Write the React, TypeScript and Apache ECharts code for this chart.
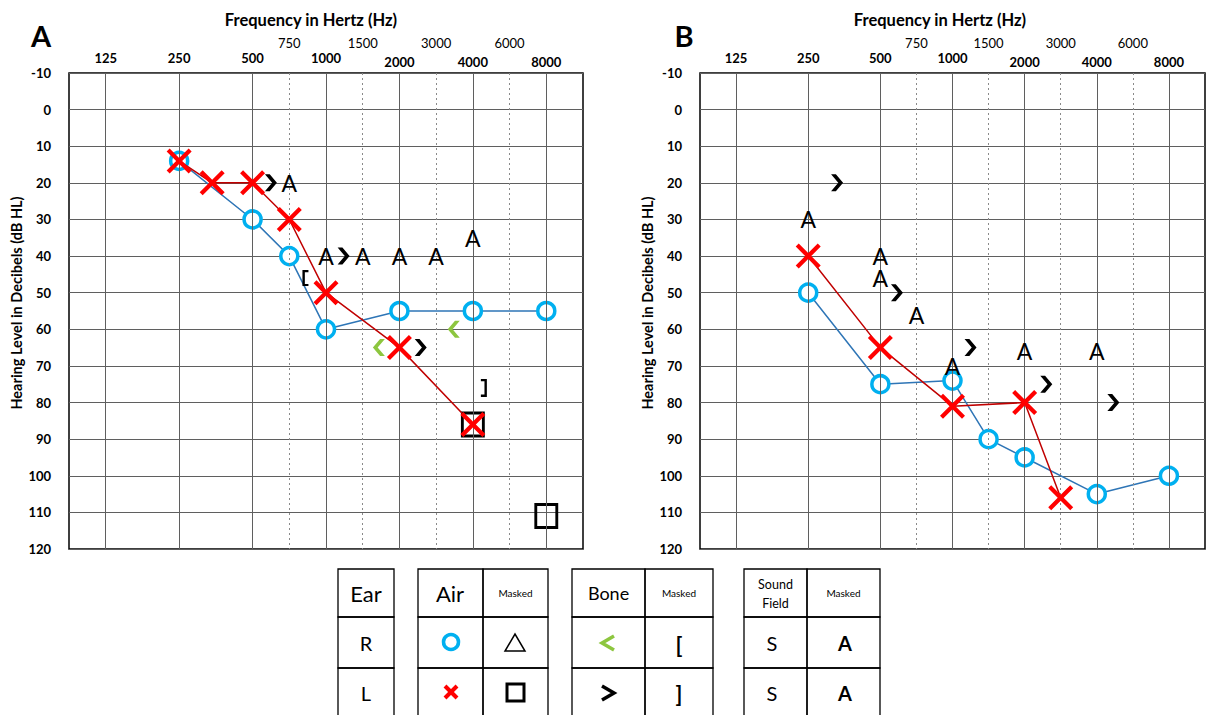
import React, { useEffect, useRef } from 'react';
import * as echarts from 'echarts';

// ---------- axis data ----------
const octaveIdx = [0, 1, 2, 3, 4, 5, 6];
const octaveFreqs = ['125', '250', '500', '1000', '2000', '4000', '8000'];
const halfIdx = [2.5, 3.5, 4.5, 5.5];
const halfFreqs = ['750', '1500', '3000', '6000'];
const dbMin = -10;
const dbMax = 120;
const dbStep = 10;

// ---------- Panel A ----------
const aRightAirX = [1, 2, 2.5, 3, 4, 5, 6];
const aRightAirY = [14, 30, 40, 60, 55, 55, 55];
const aLeftAirX = [1, 1.45, 2, 2.5, 3, 4, 5];
const aLeftAirY = [14, 20, 20, 30, 50, 65, 86];
const aLeftMaskedAirX = [5, 6];
const aLeftMaskedAirY = [86, 111];
const aRightBoneX = [3.72, 4.74];
const aRightBoneY = [65, 60];
const aLeftBoneX = [2.25, 3.24, 4.29];
const aLeftBoneY = [20, 40, 65];
const aRightMaskedBoneX = [2.72];
const aRightMaskedBoneY = [46];
const aLeftMaskedBoneX = [5.15];
const aLeftMaskedBoneY = [76];
const aMaskedSoundX = [2.5, 3, 3.5, 4, 4.5, 5];
const aMaskedSoundY = [20, 40, 40, 40, 40, 35];

// ---------- Panel B ----------
const bRightAirX = [1, 2, 3, 3.5, 4, 5, 6];
const bRightAirY = [50, 75, 74, 90, 95, 105, 100];
const bLeftAirX = [1, 2, 3, 4, 4.5];
const bLeftAirY = [40, 65, 81, 80, 106];
const bLeftBoneX = [1.4, 2.23, 3.25, 4.3, 5.23];
const bLeftBoneY = [20, 50, 65, 75, 80];
const bMaskedSoundX = [1, 2, 2, 2.5, 3, 4, 5];
const bMaskedSoundY = [30, 40, 46, 56, 70, 66, 66];

const FONT = 'Lato, "Open Sans", "DejaVu Sans", sans-serif';
const zip = (xs: number[], ys: number[]) => xs.map((x, i) => [x, ys[i]]);

const X_PATH = 'path://M0,12 L12,0 L50,38 L88,0 L100,12 L62,50 L100,88 L88,100 L50,62 L12,100 L0,88 L38,50 Z';
const GT_PATH = 'path://M0,0 L4.8,0 L12,8.5 L4.8,17 L0,17 L7.2,8.5 Z';
const LT_PATH = 'path://M12,0 L7.2,0 L0,8.5 L7.2,17 L12,17 L4.8,8.5 Z';
const LB_PATH = 'path://M0,0 L7,0 L7,2.6 L2.8,2.6 L2.8,17.4 L7,17.4 L7,20 L0,20 Z';
const RB_PATH = 'path://M0,0 L7,0 L7,20 L0,20 L0,17.4 L4.2,17.4 L4.2,2.6 L0,2.6 Z';

const fmt = (vals: number[], labels: string[]) => (v: number) => {
  const i = vals.findIndex((t) => Math.abs(t - v) < 1e-6);
  return i >= 0 ? labels[i] : '';
};

function buildPanel(p: number, left: number, width: number, nameGap: number) {
  const top = 73;
  const height = 476;
  const g0 = p * 3;
  const grids = [
    { left, top, width, height, show: true, borderColor: '#000', borderWidth: 1.5, backgroundColor: 'transparent' },
    { left, top, width, height, show: false },
    { left, top, width, height, show: false },
  ];
  const xBase = {
    type: 'value', position: 'top', min: -0.5, max: 6.5, interval: 0.5,
    axisLine: { show: false }, axisTick: { show: false }, splitLine: { show: false },
  };
  const lblBase = { interval: 0, color: '#000', fontFamily: FONT, showMinLabel: true, showMaxLabel: true };
  const xAxes = [
    { ...xBase, gridIndex: g0, axisLabel: { ...lblBase, margin: 9, fontSize: 13, fontWeight: 'bold', formatter: fmt(octaveIdx.slice(0, 4), octaveFreqs.slice(0, 4)) } },
    { ...xBase, gridIndex: g0 + 1, axisLabel: { ...lblBase, margin: 5, fontSize: 13, fontWeight: 'bold', formatter: fmt(octaveIdx.slice(4), octaveFreqs.slice(4)) } },
    { ...xBase, gridIndex: g0 + 2, axisLabel: { ...lblBase, margin: 24, fontSize: 13, fontWeight: 'normal', formatter: fmt(halfIdx, halfFreqs) } },
  ];
  const yBase = { type: 'value', inverse: true, min: dbMin, max: dbMax, interval: dbStep };
  const yAxes = [
    {
      ...yBase, gridIndex: g0, position: 'left',
      name: 'Hearing Level in Decibels (dB HL)', nameLocation: 'middle', nameRotate: 90, nameGap,
      nameTextStyle: { fontSize: 14.5, fontWeight: 'bold', color: '#000', fontFamily: FONT, padding: [0, 0, 0, 16] },
      axisLine: { show: false }, axisTick: { show: false },
      axisLabel: { margin: 18, fontSize: 13, fontWeight: 'bold', color: '#000', fontFamily: FONT },
      splitLine: { show: true, lineStyle: { color: '#5f5f5f', width: 1 } },
    },
    { ...yBase, gridIndex: g0 + 1, show: false },
    { ...yBase, gridIndex: g0 + 2, show: false },
  ];
  return { grids, xAxes, yAxes };
}

function panelSeries(ax: number, d: any) {
  const base = { xAxisIndex: ax, yAxisIndex: ax, silent: true };
  const series: any[] = [];
  series.push({
    ...base, type: 'line', data: [], z: 1,
    markLine: {
      silent: true, symbol: 'none', label: { show: false }, animation: false,
      data: [
        ...octaveIdx.map((v) => ({ xAxis: v, lineStyle: { color: '#5f5f5f', width: 1, type: 'solid' } })),
        ...halfIdx.map((v) => ({ xAxis: v, lineStyle: { color: '#8a8a8a', width: 1, type: [2, 3] } })),
      ],
    },
  });
  series.push({
    ...base, type: 'line', z: 3, data: zip(d.rX, d.rY), symbol: 'circle', symbolSize: 17, showAllSymbol: true,
    itemStyle: { color: '#ffffff', borderColor: '#00B0F0', borderWidth: 3.5, opacity: 1 },
    lineStyle: { color: '#2E75B6', width: 1.5 },
  });
  if (d.mX) {
    series.push({
      ...base, type: 'scatter', z: 4, data: zip(d.mX, d.mY), symbol: 'rect', symbolSize: [21, 23],
      itemStyle: { color: 'transparent', borderColor: '#000', borderWidth: 3, opacity: 1 },
    });
  }
  series.push({
    ...base, type: 'line', z: 5, data: zip(d.lX, d.lY), symbol: X_PATH, symbolSize: 25, showAllSymbol: true,
    itemStyle: { color: '#FF0000', borderWidth: 0, opacity: 1 },
    lineStyle: { color: '#C00000', width: 1.5 },
  });
  if (d.rbX) {
    series.push({ ...base, type: 'scatter', z: 6, data: zip(d.rbX, d.rbY), symbol: LT_PATH, symbolSize: [12, 17], itemStyle: { color: '#8DC63F', opacity: 1 } });
  }
  series.push({ ...base, type: 'scatter', z: 6, data: zip(d.lbX, d.lbY), symbol: GT_PATH, symbolSize: [12, 17], itemStyle: { color: '#000', opacity: 1 } });
  if (d.rmbX) {
    series.push({ ...base, type: 'scatter', z: 6, data: zip(d.rmbX, d.rmbY), symbol: LB_PATH, symbolSize: [6, 16], itemStyle: { color: '#000', opacity: 1 } });
  }
  if (d.lmbX) {
    series.push({ ...base, type: 'scatter', z: 6, data: zip(d.lmbX, d.lmbY), symbol: RB_PATH, symbolSize: [6, 18], itemStyle: { color: '#000', opacity: 1 } });
  }
  series.push({
    ...base, type: 'scatter', z: 6, data: zip(d.sX, d.sY), symbol: 'circle', symbolSize: 1,
    itemStyle: { color: 'transparent', opacity: 1 },
    label: { show: true, position: 'inside', formatter: 'A', fontSize: 23, color: '#000', opacity: 1, fontFamily: FONT },
  });
  return series;
}

function legendGraphics() {
  const els: any[] = [];
  const rows = [569, 617, 668, 720];
  const tables = [[338, 394], [418, 483, 548], [572, 645, 713], [744, 807, 880]];
  tables.forEach((cols) => {
    for (let c = 0; c < cols.length - 1; c++) {
      for (let r = 0; r < rows.length - 1; r++) {
        els.push({
          type: 'rect', shape: { x: cols[c], y: rows[r], width: cols[c + 1] - cols[c], height: rows[r + 1] - rows[r] },
          style: { fill: 'none', stroke: '#000', lineWidth: 1.3 },
        });
      }
    }
  });
  const txt = (x: number, y: number, text: string, size: number, weight = 'normal', fill = '#000') => ({
    type: 'text', x, y,
    style: { text, fontSize: size, fontWeight: weight, fontFamily: FONT, fill, align: 'center', verticalAlign: 'middle' },
  });
  els.push(txt(366, 593, 'Ear', 22));
  els.push(txt(366, 643, 'R', 20));
  els.push(txt(366, 693, 'L', 20));
  els.push(txt(450, 593, 'Air', 22));
  els.push(txt(515.5, 593, 'Masked', 10));
  els.push(txt(608.5, 593, 'Bone', 18));
  els.push(txt(679, 593, 'Masked', 10));
  els.push(txt(775.5, 584, 'Sound', 12.5));
  els.push(txt(775.5, 603, 'Field', 12.5));
  els.push(txt(843.5, 593, 'Masked', 10));
  // air symbols
  els.push({ type: 'circle', shape: { cx: 451, cy: 642, r: 7.5 }, style: { fill: 'none', stroke: '#00B0F0', lineWidth: 3.5 } });
  els.push({ type: 'polygon', shape: { points: [[505, 651], [525, 651], [515, 634]] }, style: { fill: 'none', stroke: '#000', lineWidth: 1.5 } });
  els.push({ type: 'line', shape: { x1: 445, y1: 686, x2: 457, y2: 698 }, style: { stroke: '#FF0000', lineWidth: 4 } });
  els.push({ type: 'line', shape: { x1: 457, y1: 686, x2: 445, y2: 698 }, style: { stroke: '#FF0000', lineWidth: 4 } });
  els.push({ type: 'rect', shape: { x: 507, y: 684, width: 17, height: 17 }, style: { fill: 'none', stroke: '#000', lineWidth: 3 } });
  // bone symbols
  els.push({ type: 'polyline', shape: { points: [[614, 636], [602, 643], [614, 650]] }, style: { fill: 'none', stroke: '#8DC63F', lineWidth: 3.5 } });
  els.push({ type: 'polyline', shape: { points: [[602, 686], [614, 693], [602, 700]] }, style: { fill: 'none', stroke: '#000', lineWidth: 3.5 } });
  els.push(txt(679, 644, '[', 22, 'bold'));
  els.push(txt(679, 693, ']', 22, 'bold'));
  // sound field
  els.push(txt(772, 643, 'S', 20));
  els.push(txt(772, 693, 'S', 20));
  els.push(txt(845, 643, 'A', 20, 'bold'));
  els.push(txt(845, 693, 'A', 20, 'bold'));
  // panel titles
  els.push(txt(41, 35, 'A', 29, 'bold'));
  els.push(txt(684, 35, 'B', 29, 'bold'));
  els.push(txt(311, 20, 'Frequency in Hertz (Hz)', 16.5, 'bold'));
  els.push(txt(940, 20, 'Frequency in Hertz (Hz)', 16.5, 'bold'));
  return els;
}

export default function App() {
  const ref = useRef<HTMLDivElement>(null);
  useEffect(() => {
    if (!ref.current) return;
    const chart = echarts.init(ref.current, undefined, { renderer: 'svg' });
    const pA = buildPanel(0, 69, 514, 42);
    const pB = buildPanel(1, 700, 516, 40);
    const dataA = {
      rX: aRightAirX, rY: aRightAirY, lX: aLeftAirX, lY: aLeftAirY,
      mX: aLeftMaskedAirX, mY: aLeftMaskedAirY,
      rbX: aRightBoneX, rbY: aRightBoneY, lbX: aLeftBoneX, lbY: aLeftBoneY,
      rmbX: aRightMaskedBoneX, rmbY: aRightMaskedBoneY, lmbX: aLeftMaskedBoneX, lmbY: aLeftMaskedBoneY,
      sX: aMaskedSoundX, sY: aMaskedSoundY,
    };
    const dataB = {
      rX: bRightAirX, rY: bRightAirY, lX: bLeftAirX, lY: bLeftAirY,
      lbX: bLeftBoneX, lbY: bLeftBoneY, sX: bMaskedSoundX, sY: bMaskedSoundY,
    };
    chart.setOption({
      animation: false,
      backgroundColor: '#ffffff',
      textStyle: { fontFamily: FONT },
      grid: [...pA.grids, ...pB.grids],
      xAxis: [...pA.xAxes, ...pB.xAxes],
      yAxis: [...pA.yAxes, ...pB.yAxes],
      series: [...panelSeries(0, dataA), ...panelSeries(3, dataB)],
      graphic: legendGraphics(),
    });
    return () => chart.dispose();
  }, []);
  return <div ref={ref} style={{ position: 'absolute', left: 0, top: 0, width: 1208, height: 715 }} />;
}
